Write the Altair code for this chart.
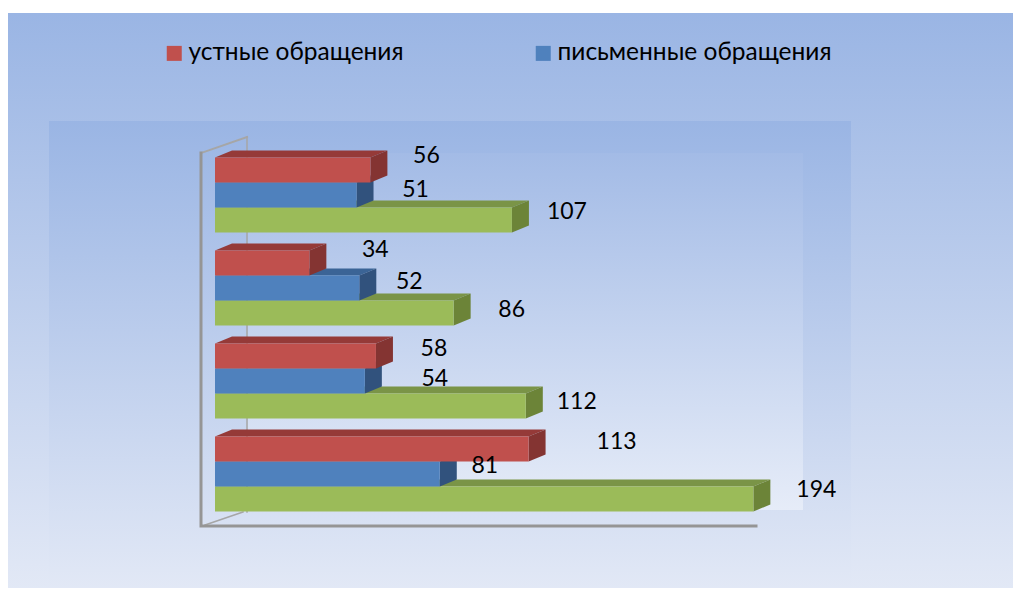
import altair as alt
import pandas as pd

quarters = ["I квартал", "II квартал", "III квартал", "IV квартал"]
oral = [113, 58, 34, 56]
written = [81, 54, 52, 51]
other = [194, 112, 86, 107]
series_names = ["третья серия", "письменные обращения", "устные обращения"]
tick_values = [0, 50, 100, 150, 200]

FONT = "Lato"
FS = 23
PX_X = 2.775      # px per value unit
PX_Y = 93.0       # px per quarter
ORIGIN_PX = 215 - 200
DX = 17 / PX_X    # depth of the 3D extrusion
DY = 7 / PX_Y
THICK = 25 / PX_Y
W, H = 813, 518

# label nudges in pixels relative to the back end of the bar / bar centre
nudge_x = {
    "устные обращения": [71, 41, 49, 39],
    "письменные обращения": [28, 53, 33, 42],
    "третья серия": [46, 34, 41, 38],
}
nudge_y = {
    "устные обращения": [7, 7, 13, 14],
    "письменные обращения": [8, 2, 6, 5],
    "третья серия": [9, 4, 3, 8],
}
values = {"устные обращения": oral, "письменные обращения": written, "третья серия": other}
band = {"устные обращения": 1, "письменные обращения": 0, "третья серия": -1}
colors = {
    "устные обращения": ("#c0504d", "#953a38", "#843432"),
    "письменные обращения": ("#4f81bd", "#3b6496", "#31527d"),
    "третья серия": ("#9bbb59", "#7a9447", "#6c8438"),
}

x_scale = alt.Scale(domain=[-ORIGIN_PX / PX_X, (W - ORIGIN_PX) / PX_X], nice=False, zero=False)
y_scale = alt.Scale(domain=[(474 - 526) / PX_Y, (474 - 8) / PX_Y], nice=False, zero=False)
color_scale = alt.Scale(domain=series_names, range=[colors[s][0] for s in series_names])

x_axis = alt.Axis(values=tick_values, title=None, grid=False, domain=False, ticks=False,
                  labelFont=FONT, labelFontSize=FS, labelColor="#000", labelPadding=20,
                  labelOffset=-16, labelFlush=False, labelOverlap=False)
y_axis = alt.Axis(values=[0, 1, 2, 3], title=None, grid=False, domain=False, ticks=False,
                  labelFont=FONT, labelFontSize=FS, labelColor="#000", labelPadding=25,
                  labelOffset=6, labelFlush=False, labelOverlap=False,
                  labelExpr="{0:'" + quarters[0] + "',1:'" + quarters[1] + "',2:'" + quarters[2]
                            + "',3:'" + quarters[3] + "'}[datum.value]")

one = pd.DataFrame({"a": [0]})


def panel(x0, x1, y0, y1, c0, c1):
    return alt.Chart(one).mark_rect(
        color=alt.Gradient(gradient="linear", x1=0, y1=0, x2=0, y2=1,
                           stops=[alt.GradientStop(offset=0, color=c0),
                                  alt.GradientStop(offset=1, color=c1)])
    ).encode(x=alt.value(x0 - 200), x2=alt.value(x1 - 200), y=alt.value(y0 - 8), y2=alt.value(y1 - 8))


layers = [
    panel(8, 1013, 13, 596, "#9ab5e4", "#e3e9f6"),
    panel(49, 851, 121, 596, "#9ab5e4", "#e3e9f6"),
    panel(248, 803, 153, 510, "#a3bbe6", "#e6ecf8"),
]

# wall frame
xv = lambda p: (p - 215) / PX_X
yv = lambda p: (474 - p) / PX_Y
wall_groups = [
    ([(247, 137), (247, 512)], 1.5, "#a6a6a6"),
    ([(205, 525), (243, 512)], 1.5, "#a6a6a6"),
    ([(247, 137), (201, 153)], 2, "#a6a6a6"),
    ([(201, 153), (201, 526), (756, 526)], 3, "#959595"),
]
for pts, sw, col in wall_groups:
    df = pd.DataFrame({"x": [xv(p[0]) for p in pts], "y": [yv(p[1]) for p in pts], "o": range(len(pts))})
    layers.append(
        alt.Chart(df).mark_line(strokeWidth=sw, color=col, strokeCap="square", clip=False).encode(
            x=alt.X("x:Q", scale=x_scale, axis=x_axis),
            y=alt.Y("y:Q", scale=y_scale, axis=y_axis),
            order="o:Q",
        )
    )

for name in series_names:
    front_c, top_c, side_c = colors[name]
    vals = values[name]
    front, top, side = [], [], []
    for g, v in enumerate(vals):
        hi = g + (band[name] + 0.5) * THICK
        lo = g + (band[name] - 0.5) * THICK
        front.append({"x": 0, "x2": v, "y": lo, "y2": hi, "series": name})
        top.append({"g": g, "y": hi, "x": 0, "x2": v})
        top.append({"g": g, "y": hi + DY, "x": DX, "x2": v + DX})
        side.append({"g": g, "x": v, "y": lo, "y2": hi})
        side.append({"g": g, "x": v + DX, "y": lo + DY, "y2": hi + DY})
    layers.append(
        alt.Chart(pd.DataFrame(top)).mark_area(orient="horizontal", color=top_c, interpolate="linear").encode(
            x=alt.X("x:Q", scale=x_scale, axis=x_axis, stack=None),
            x2="x2:Q",
            y=alt.Y("y:Q", scale=y_scale, axis=y_axis),
            detail="g:N",
        )
    )
    layers.append(
        alt.Chart(pd.DataFrame(side)).mark_area(orient="vertical", color=side_c, interpolate="linear").encode(
            x=alt.X("x:Q", scale=x_scale, axis=x_axis),
            y=alt.Y("y:Q", scale=y_scale, axis=y_axis, stack=None),
            y2="y2:Q",
            detail="g:N",
        )
    )
    layers.append(
        alt.Chart(pd.DataFrame(front)).mark_rect().encode(
            x=alt.X("x:Q", scale=x_scale, axis=x_axis),
            x2="x2:Q",
            y=alt.Y("y:Q", scale=y_scale, axis=y_axis),
            y2="y2:Q",
            color=alt.Color("series:N", scale=color_scale, legend=alt.Legend(
                orient="none", legendX=-38, legendY=33, direction="horizontal", columns=2,
                title=None, values=["устные обращения", "письменные обращения"],
                symbolType="square", symbolSize=225, symbolStrokeWidth=0, labelFont=FONT,
                labelFontSize=24.5, labelColor="#000", columnPadding=127, labelOffset=2,
                labelLimit=400, padding=0)),
        )
    )

rows = []
for name in series_names:
    for g, v in enumerate(values[name]):
        rows.append({
            "x": v + DX + nudge_x[name][g] / PX_X,
            "y": g + band[name] * THICK + nudge_y[name][g] / PX_Y,
            "t": str(v),
        })
layers.append(
    alt.Chart(pd.DataFrame(rows)).mark_text(font=FONT, fontSize=FS, color="#000").encode(
        x=alt.X("x:Q", scale=x_scale, axis=x_axis),
        y=alt.Y("y:Q", scale=y_scale, axis=y_axis),
        text="t:N",
    )
)

chart = alt.layer(*layers).properties(
    width=W, height=H,
    autosize=alt.AutoSizeParams(type="none"),
    padding={"left": 192, "top": 0, "right": 0, "bottom": 62},
    background="#ffffff",
).configure_view(stroke=None)

chart.save("out.html", embed_options={"renderer": "svg", "actions": False})
